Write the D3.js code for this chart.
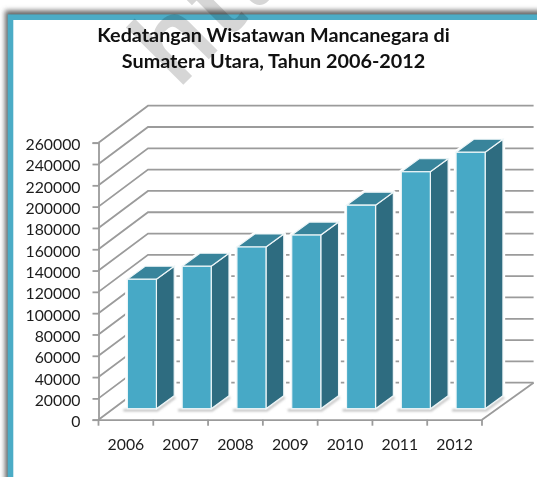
<!DOCTYPE html>
<html>
<head>
<meta charset="utf-8">
<script src="https://cdnjs.cloudflare.com/ajax/libs/d3/7.8.5/d3.min.js"></script>
<style>
html,body{margin:0;padding:0;background:#fff;overflow:hidden}
svg{display:block}
text{font-family:Lato,"Open Sans",sans-serif}
</style>
</head>
<body>
<div id="chart"></div>
<script>
const categories = ["2006","2007","2008","2009","2010","2011","2012"];
const visitors = [121500,133700,151800,163000,191000,222400,240700];
const yTicks = [0,20000,40000,60000,80000,100000,120000,140000,160000,180000,200000,220000,240000,260000];
const titleLines = ["Kedatangan Wisatawan Mancanegara di","Sumatera Utara, Tahun 2006-2012"];

const W = 537, H = 477;
const svg = d3.select("#chart").append("svg").attr("width",W).attr("height",H);
const defs = svg.append("defs");
defs.append("filter").attr("id","frameShadow").attr("x","-10%").attr("y","-10%").attr("width","120%").attr("height","120%")
  .append("feGaussianBlur").attr("stdDeviation",2.8);
defs.append("filter").attr("id","baseShadow").attr("x","-20%").attr("y","-50%").attr("width","140%").attr("height","200%")
  .append("feGaussianBlur").attr("stdDeviation",0.9);
defs.append("filter").attr("id","soft").attr("x","-5%").attr("y","-5%").attr("width","110%").attr("height","110%")
  .append("feGaussianBlur").attr("stdDeviation",0.35);

// frame
svg.append("rect").attr("x",5).attr("y",10.5).attr("width",700).attr("height",700)
  .attr("fill","#666").attr("filter","url(#frameShadow)");
svg.append("rect").attr("x",10.5).attr("y",17.2).attr("width",700).attr("height",700)
  .attr("fill","#fff").attr("stroke","#4BACC6").attr("stroke-width",5.6);

// scales
const x = d3.scaleBand().domain(categories).range([98.5,482]).paddingInner(0.47).paddingOuter(0.235);
const y = d3.scaleLinear().domain([0,260000]).range([419.7,142.7]);
const wall = {dx:49.5, dy:-37, right:533.6};
const barShift = {dx:16, dy:-11};
const depth = {dx:17.8, dy:-13};
const gridColor = "#9b9b9b";

const plot = svg.append("g").attr("filter","url(#soft)");

// walls + gridlines
yTicks.forEach(t=>{
  const yy = y(t);
  plot.append("path")
    .attr("d",d3.line()([[x.range()[0],yy],[x.range()[0]+wall.dx,yy+wall.dy],[wall.right,yy+wall.dy]]))
    .attr("fill","none").attr("stroke",gridColor).attr("stroke-width",1.8);
});
// floor right edge
plot.append("path")
  .attr("d",d3.line()([[482,y(0)],[wall.right,y(0)+wall.dy]]))
  .attr("fill","none").attr("stroke",gridColor).attr("stroke-width",1.8);

// axes
const yAxis = d3.axisLeft(y).tickValues(yTicks).tickFormat(d3.format("d")).tickSize(6).tickPadding(12);
const yG = plot.append("g").attr("transform","translate(98.5,0)").call(yAxis);
const xAxis = d3.axisBottom(x).tickSize(0).tickPadding(18);
const xG = plot.append("g").attr("transform",`translate(0,${y(0)})`).call(xAxis);
xG.selectAll(".domain").attr("stroke",gridColor).attr("stroke-width",1.8);
yG.selectAll(".domain,.tick line").attr("stroke",gridColor).attr("stroke-width",1.8);
yG.selectAll("text").attr("dy","0.44em");
xG.selectAll("text").attr("dy","0.8em");
const step = x.step();
categories.concat("end").forEach((c,i)=>{
  const tx = 98.5+i*step;
  xG.append("line").attr("x1",tx).attr("x2",tx).attr("y1",0).attr("y2",6).attr("stroke",gridColor).attr("stroke-width",1.8);
});
[yG,xG].forEach(g=>g.selectAll("text").attr("fill","#1c1c1c").style("font-size","15.8px").style("font-family","Lato,sans-serif"));

// bars
const data = categories.map((c,i)=>({c,v:visitors[i]}));
const geom = d=>{
  const x0 = x(d.c)+barShift.dx, x1 = x0+x.bandwidth();
  const yt = y(d.v)+barShift.dy, yb = y(0)+barShift.dy;
  return {x0,x1,yt,yb};
};
const line = d3.line();
const bars = plot.selectAll(".bar").data(data).join("g").attr("class","bar");
bars.append("path") // white halo
  .attr("d",d=>{const g=geom(d);return line([[g.x0,g.yb],[g.x0,g.yt],[g.x0+depth.dx,g.yt+depth.dy],[g.x1+depth.dx,g.yt+depth.dy],[g.x1+depth.dx,g.yb+depth.dy],[g.x1,g.yb]])+"Z";})
  .attr("fill","#fff").attr("stroke","#fff").attr("stroke-width",4.5).attr("stroke-linejoin","round");
bars.append("path") // base shadow
  .attr("d",d=>{const g=geom(d);return line([[g.x0-4,g.yb+1.5],[g.x1+1,g.yb+1.5],[g.x1+depth.dx+1,g.yb+depth.dy+1.5]]);})
  .attr("fill","none").attr("stroke","#c4c4c4").attr("stroke-width",2.4).attr("filter","url(#baseShadow)");
bars.append("path") // side
  .attr("d",d=>{const g=geom(d);return line([[g.x1,g.yt],[g.x1+depth.dx,g.yt+depth.dy],[g.x1+depth.dx,g.yb+depth.dy],[g.x1,g.yb]])+"Z";})
  .attr("fill","#2F6C80").attr("stroke","#eef6f8").attr("stroke-width",1.2);
bars.append("path") // top
  .attr("d",d=>{const g=geom(d);return line([[g.x0,g.yt],[g.x0+depth.dx,g.yt+depth.dy],[g.x1+depth.dx,g.yt+depth.dy],[g.x1,g.yt]])+"Z";})
  .attr("fill","#37849B").attr("stroke","#eef6f8").attr("stroke-width",1.2);
bars.append("rect") // front
  .attr("x",d=>geom(d).x0).attr("y",d=>geom(d).yt)
  .attr("width",x.bandwidth()).attr("height",d=>geom(d).yb-geom(d).yt)
  .attr("fill","#46A9C6").attr("stroke","#eef6f8").attr("stroke-width",1.2);

// watermark (under the title)
svg.append("text").attr("transform","translate(178,88) rotate(-45)")
  .attr("fill","#000").attr("stroke","#000").attr("stroke-width",3)
  .attr("opacity",0.16)
  .style("font-family","'Liberation Sans',sans-serif").style("font-size","108px")
  .attr("letter-spacing","8")
  .text("http");

// title
svg.append("g").selectAll("text").data(titleLines).join("text")
  .attr("x",273.5).attr("y",(d,i)=>42+i*26)
  .attr("text-anchor","middle").attr("fill","#111")
  .style("font-size","19.8px").style("font-weight","700")
  .text(d=>d);
</script>
</body>
</html>
